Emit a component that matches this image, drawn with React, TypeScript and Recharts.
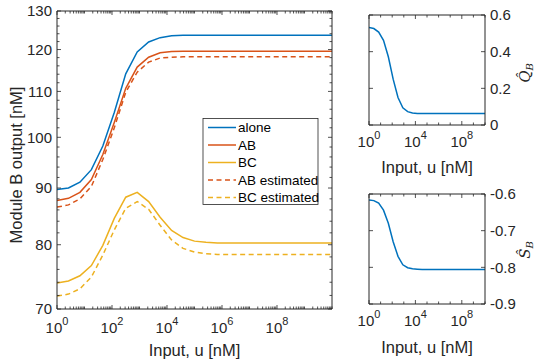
import React from 'react';
import { LineChart, Line, XAxis, YAxis } from 'recharts';

// input grid (logspace 10^0 .. 10^10, 25 points)
const inputU = [
  1, 2.61, 6.81, 17.8, 46.4, 121, 316, 825, 2154, 5623, 14678, 38312, 1e5,
  2.61e5, 6.81e5, 1.78e6, 4.64e6, 1.21e7, 3.16e7, 8.25e7, 2.15e8, 5.62e8,
  1.47e9, 3.83e9, 1e10,
];

const alone = [
  89.7, 90.0, 91.1, 93.5, 98.2, 105.3, 114.1, 119.4, 121.9, 123.0, 123.5, 123.6, 123.6,
  123.6, 123.6, 123.6, 123.6, 123.6, 123.6, 123.6, 123.6, 123.6, 123.6, 123.6, 123.6,
];
const ab = [
  87.7, 88.1, 89.2, 91.6, 96.5, 103.1, 110.7, 115.7, 118.1, 119.2, 119.5, 119.6, 119.6,
  119.6, 119.6, 119.6, 119.6, 119.6, 119.6, 119.6, 119.6, 119.6, 119.6, 119.6, 119.6,
];
const bc = [
  73.9, 74.2, 75.0, 76.6, 79.9, 84.5, 88.3, 89.2, 87.5, 84.7, 82.4, 81.2, 80.6,
  80.4, 80.3, 80.3, 80.3, 80.3, 80.3, 80.3, 80.3, 80.3, 80.3, 80.3, 80.3,
];
const abEst = [
  86.5, 86.9, 88.0, 90.3, 95.5, 102.0, 109.8, 114.5, 116.9, 117.9, 118.1, 118.2, 118.2,
  118.2, 118.2, 118.2, 118.2, 118.2, 118.2, 118.2, 118.2, 118.2, 118.2, 118.2, 118.2,
];
const bcEst = [
  71.9, 72.2, 73.0, 74.8, 78.3, 82.5, 86.3, 87.5, 86.1, 83.3, 80.8, 79.4, 78.8,
  78.5, 78.4, 78.4, 78.4, 78.4, 78.4, 78.4, 78.4, 78.4, 78.4, 78.4, 78.4,
];
const qB = [
  0.532, 0.526, 0.507, 0.462, 0.372, 0.25, 0.15, 0.094, 0.073, 0.066, 0.063, 0.063, 0.063,
  0.063, 0.063, 0.063, 0.063, 0.063, 0.063, 0.063, 0.063, 0.063, 0.063, 0.063, 0.063,
];
const sB = [
  -0.616, -0.618, -0.625, -0.644, -0.68, -0.73, -0.77, -0.793, -0.801, -0.804, -0.805, -0.806, -0.806,
  -0.806, -0.806, -0.806, -0.806, -0.806, -0.806, -0.806, -0.806, -0.806, -0.806, -0.806, -0.806,
];

const mainXMajor = [1, 1e2, 1e4, 1e6, 1e8];
const mainYMajor = [70, 80, 90, 100, 110, 120, 130];
const smallXMajor = [1, 1e4, 1e8];
const qTicks = [0, 0.2, 0.4, 0.6];
const sTicks = [-0.9, -0.8, -0.7, -0.6];

const series = [
  { key: 'alone', name: 'alone', color: '#0072BD', dash: undefined as string | undefined },
  { key: 'ab', name: 'AB', color: '#D95319', dash: undefined },
  { key: 'bc', name: 'BC', color: '#EDB120', dash: undefined },
  { key: 'abEst', name: 'AB estimated', color: '#D95319', dash: '5 3.5' },
  { key: 'bcEst', name: 'BC estimated', color: '#EDB120', dash: '5 3.5' },
];

const mainData = inputU.map((u, i) => ({
  u, alone: alone[i], ab: ab[i], bc: bc[i], abEst: abEst[i], bcEst: bcEst[i],
}));
const smallData = inputU.map((u, i) => ({ u, q: qB[i], s: sB[i] }));

// minor ticks
const decades = [0, 1, 2, 3, 4, 5, 6, 7, 8, 9];
const mainXTicks = decades.flatMap((d) => [1, 2, 3, 4, 5, 6, 7, 8, 9].map((m) => m * 10 ** d)).concat([1e10]);
const mainYTicks = [70, 72, 74, 76, 78, 80, 82, 84, 86, 88, 90, 92, 94, 96, 98, 100, 102, 104, 106, 108,
  110, 112, 114, 116, 118, 120, 122, 124, 126, 128, 130];
const smallXTicks = decades.map((d) => 10 ** d).concat([1e10]);

const W = 534;
const H = 362;
const FONT = '"Liberation Sans", Arial, Helvetica, sans-serif';
const AX = '#262626';

const AxisTick = (props: any) => {
  const { x, y, payload, side, majors, fmt, xOff = 24 } = props;
  const v = payload.value;
  const isMajor = majors.includes(v);
  const len = isMajor ? 4 : 2.5;
  let line = null;
  if (side === 'bottom') line = <line x1={x} y1={y} x2={x} y2={y - len} />;
  if (side === 'top') line = <line x1={x} y1={y} x2={x} y2={y + len} />;
  if (side === 'left') line = <line x1={x} y1={y} x2={x + len} y2={y} />;
  if (side === 'right') line = <line x1={x} y1={y} x2={x - len} y2={y} />;
  let label = null;
  if (fmt && isMajor) {
    if (fmt === 'exp') {
      const e = Math.round(Math.log10(v));
      label = (
        <text x={x} y={y + xOff} textAnchor="middle" fontSize={15} fill={AX} stroke="none" fontFamily={FONT}>
          10<tspan dy={-8} fontSize={11}>{e}</tspan>
        </text>
      );
    } else {
      const txt = fmt === 'dec' ? (v === 0 ? '0' : v.toFixed(1)) : String(v);
      const left = side === 'left';
      label = (
        <text x={left ? x - 5 : x + 5} y={y} dy="0.35em" textAnchor={left ? 'end' : 'start'}
          fontSize={15} fill={AX} stroke="none" fontFamily={FONT}>
          {txt}
        </text>
      );
    }
  }
  return (
    <g stroke={AX} strokeWidth={0.8}>
      {line}
      {label}
    </g>
  );
};

const axisCommon = {
  tickSize: 0,
  tickMargin: 0,
  tickLine: false,
  interval: 0 as const,
  allowDataOverflow: true,
  stroke: AX,
  strokeWidth: 1,
};

// plot box helper: axes take 1px each, so margins are shrunk by 1
const boxMargin = (l: number, t: number, r: number, b: number) => ({
  left: l - 1, top: t - 1, right: W - r - 1, bottom: H - b - 1,
});

const MainChart = () => (
  <LineChart width={W} height={H} data={mainData} margin={boxMargin(57, 11, 332, 309)}>
    <XAxis xAxisId="b" dataKey="u" type="number" scale="log" domain={[1, 1e10]} ticks={mainXTicks}
      height={1} {...axisCommon}
      tick={(p: any) => <AxisTick {...p} side="bottom" majors={mainXMajor} fmt="exp" xOff={24} />} />
    <XAxis xAxisId="t" dataKey="u" orientation="top" type="number" scale="log" domain={[1, 1e10]} ticks={mainXTicks}
      height={1} {...axisCommon}
      tick={(p: any) => <AxisTick {...p} side="top" majors={mainXMajor} />} />
    <YAxis yAxisId="l" type="number" scale="log" domain={[70, 130]} ticks={mainYTicks}
      width={1} {...axisCommon}
      tick={(p: any) => <AxisTick {...p} side="left" majors={mainYMajor} fmt="num" />} />
    <YAxis yAxisId="r" orientation="right" type="number" scale="log" domain={[70, 130]} ticks={mainYTicks}
      width={1} {...axisCommon}
      tick={(p: any) => <AxisTick {...p} side="right" majors={mainYMajor} />} />
    {series.map((s) => (
      <Line key={s.key} xAxisId="b" yAxisId="l" dataKey={s.key} name={s.name} type="linear"
        stroke={s.color} strokeWidth={1.5} strokeDasharray={s.dash} dot={false}
        isAnimationActive={false} />
    ))}
  </LineChart>
);

const SmallChart = ({ top, bottom, dataKey, domain, ticks }: any) => (
  <LineChart width={W} height={H} data={smallData} margin={boxMargin(369, top, 485, bottom)}>
    <XAxis xAxisId="b" dataKey="u" type="number" scale="log" domain={[1, 1e10]} ticks={smallXTicks}
      height={1} {...axisCommon}
      tick={(p: any) => <AxisTick {...p} side="bottom" majors={smallXMajor} fmt="exp" xOff={22} />} />
    <XAxis xAxisId="t" dataKey="u" orientation="top" type="number" scale="log" domain={[1, 1e10]} ticks={smallXTicks}
      height={1} {...axisCommon}
      tick={(p: any) => <AxisTick {...p} side="top" majors={smallXMajor} />} />
    <YAxis yAxisId="r" orientation="right" type="number" domain={domain} ticks={ticks}
      width={1} {...axisCommon}
      tick={(p: any) => <AxisTick {...p} side="right" majors={ticks} fmt="dec" />} />
    <YAxis yAxisId="l" type="number" domain={domain} ticks={ticks}
      width={1} {...axisCommon}
      tick={(p: any) => <AxisTick {...p} side="left" majors={ticks} />} />
    <Line xAxisId="b" yAxisId="r" dataKey={dataKey} type="linear" stroke="#0072BD" strokeWidth={1.5}
      dot={false} isAnimationActive={false} />
  </LineChart>
);

const Overlay = () => (
  <svg width={W} height={H} style={{ position: 'absolute', left: 0, top: 0, pointerEvents: 'none' }}>
    <g fontFamily={FONT} fill={AX}>
      <text x={194.5} y={356} textAnchor="middle" fontSize={16.5}>Input, u [nM]</text>
      <text x={427} y={173} textAnchor="middle" fontSize={16.5}>Input, u [nM]</text>
      <text x={427} y={353} textAnchor="middle" fontSize={16.5}>Input, u [nM]</text>
      <text transform="translate(22,165) rotate(-90)" textAnchor="middle" fontSize={16.5}>Module B output [nM]</text>
    </g>
    <g fontFamily="'DejaVu Serif', 'Liberation Serif', serif" fontStyle="italic" fill={AX}>
      <text transform="translate(530,73) rotate(-90)" textAnchor="middle" fontSize={15}>
        Q̂<tspan dy={3} fontSize={10}>B</tspan>
      </text>
      <text transform="translate(530,250) rotate(-90)" textAnchor="middle" fontSize={15}>
        Ŝ<tspan dy={3} fontSize={10}>B</tspan>
      </text>
    </g>
    <g>
      <rect x={203} y={118.5} width={115} height={86} fill="#fff" stroke={AX} strokeWidth={0.8} />
      {series.map((s, i) => {
        const cy = 127.5 + i * 17.5;
        return (
          <g key={s.key}>
            <line x1={208} x2={236} y1={cy} y2={cy} stroke={s.color} strokeWidth={1.5} strokeDasharray={s.dash} />
            <text x={238} y={cy} dy="0.35em" fontSize={13.5} fontFamily={FONT} fill="#000">{s.name}</text>
          </g>
        );
      })}
    </g>
  </svg>
);

export default function App() {
  return (
    <div style={{ position: 'absolute', left: 0, top: 0, width: W, height: H, background: '#fff', overflow: 'hidden' }}>
      <div style={{ position: 'absolute', left: 0, top: 0 }}><MainChart /></div>
      <div style={{ position: 'absolute', left: 0, top: 0 }}>
        <SmallChart top={15} bottom={125} dataKey="q" domain={[0, 0.6]} ticks={qTicks} />
      </div>
      <div style={{ position: 'absolute', left: 0, top: 0 }}>
        <SmallChart top={194} bottom={304} dataKey="s" domain={[-0.9, -0.6]} ticks={sTicks} />
      </div>
      <Overlay />
    </div>
  );
}
